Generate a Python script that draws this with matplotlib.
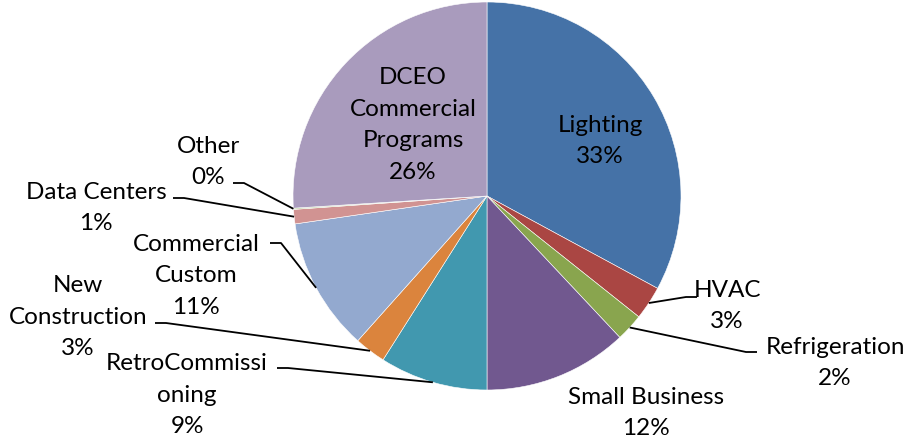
import numpy as np
import matplotlib
matplotlib.use("Agg")
from matplotlib import pyplot as plt

plt.rcParams['font.family'] = ['Lato', 'DejaVu Sans']

# share of savings by program (percent)
names = ['Lighting', 'HVAC', 'Refrigeration', 'Small Business', 'RetroCommissi\noning',
         'New\nConstruction', 'Commercial\nCustom', 'Data Centers', 'Other',
         'DCEO\nCommercial\nPrograms']
shares = [32.9, 2.8, 2.3, 12.0, 9.0, 2.6, 11.1, 1.2, 0.1, 26.0]
colors = ['#4572A7', '#AA4643', '#89A54E', '#71588F', '#4198AF',
          '#DB843D', '#93A9CF', '#D19392', '#B9CD96', '#A99BBD']

# label centres in pixel space (x from left, y from top) and leader line ends
label_xy = [(600, 141), (727, 306), (835, 363), (646, 413), (187, 395),
            (78, 317), (196, 276), (96, 208), (208, 162), (413, 125)]
leader_end = [None, (697, 297), (757, 352), None, (277, 368),
              (155, 323), (270, 243), (173, 198), (233, 183), None]

W, H = 910, 440
cx, cy, r = 487, H - 196, 194

fig = plt.figure(figsize=(W / 100, H / 100), dpi=100)
ax = fig.add_axes([0, 0, 1, 1])
wedges, _ = ax.pie(shares, colors=colors, startangle=90, counterclock=False,
                   center=(cx, cy), radius=r,
                   wedgeprops=dict(edgecolor='white', linewidth=0.4))
ax.set_xlim(0, W)
ax.set_ylim(0, H)
ax.set_aspect('equal')
ax.axis('off')

for w, name, val, (lx, ly), end in zip(wedges, names, shares, label_xy, leader_end):
    ax.text(lx, H - ly, f'{name}\n{val:.0f}%', ha='center', va='center',
            fontsize=17.5, linespacing=1.62, color='black')
    if end is None:
        continue
    mid = np.deg2rad((w.theta1 + w.theta2) / 2)
    ax_x, ax_y = cx + r * np.cos(mid), cy + r * np.sin(mid)
    ex, ey = end[0], H - end[1]
    step = 11 if ex > cx else -11
    ax.plot([ax_x, ex - step, ex], [ax_y, ey, ey], color='black', lw=1.3,
            solid_capstyle='butt')

fig.savefig('out.png', dpi=100)
